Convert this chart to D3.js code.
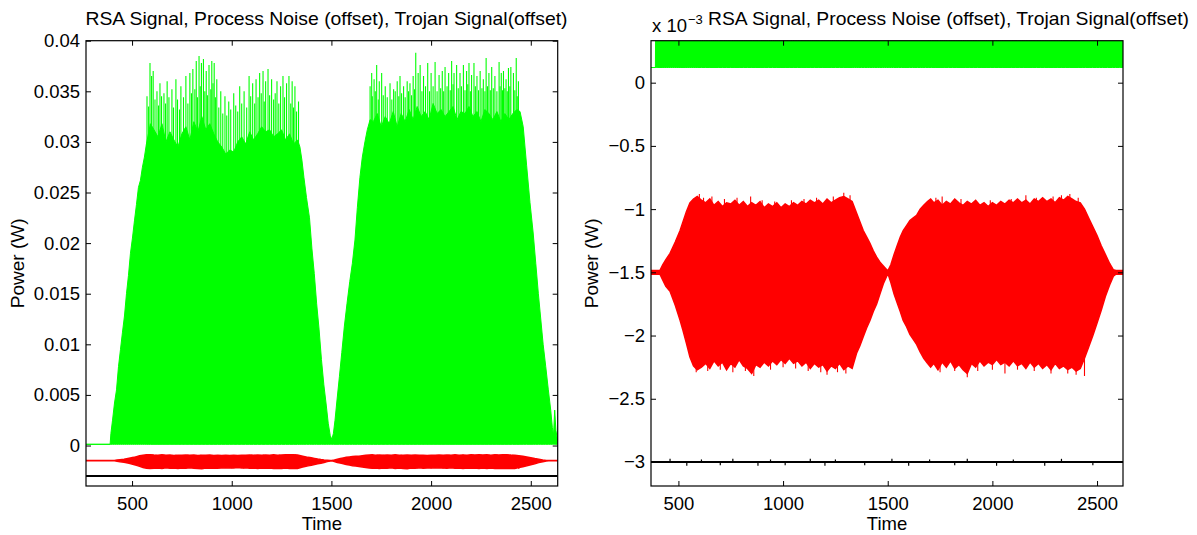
<!DOCTYPE html>
<html>
<head>
<meta charset="utf-8">
<script src="https://cdn.jsdelivr.net/npm/d3@7"></script>
<style>
body { margin: 0; background: #fff; }
text { font-family: "Liberation Sans", Arial, Helvetica, sans-serif; fill: #000; }
</style>
</head>
<body>
<div id="chart"></div>
<script>
// ---- data (time in samples, power in W unless noted) ----
var titleText = "RSA Signal, Process Noise (offset), Trojan Signal(offset)";
var xTicks = [500, 1000, 1500, 2000, 2500];
var xTickLabels = ["500", "1000", "1500", "2000", "2500"];
var leftYTicks = [0, 0.005, 0.01, 0.015, 0.02, 0.025, 0.03, 0.035, 0.04];
var leftYTickLabels = ["0", "0.005", "0.01", "0.015", "0.02", "0.025", "0.03", "0.035", "0.04"];
var rightYTicks = [-0.003, -0.0025, -0.002, -0.0015, -0.001, -0.0005, 0];
var rightYTickLabels = ["\u22123", "\u22122.5", "\u22122", "\u22121.5", "\u22121", "\u22120.5", "0"];

// RSA signal (green): floor of the dense trace and its upper envelope
var greenFloor = 0.00012;
var greenT = [269, 390, 394, 402, 412, 422, 432, 442, 452, 462, 472, 482, 492, 502, 512, 522, 532, 542, 552, 562, 572, 582, 592,
  610, 630, 650, 670, 690, 710, 730, 750, 770, 790, 810, 830, 850, 870, 890, 910, 930, 950, 970, 990,
  1010, 1030, 1050, 1070, 1090, 1110, 1130, 1150, 1170, 1190, 1210, 1230, 1250, 1270, 1290, 1310, 1330,
  1342, 1352, 1362, 1375, 1390, 1402, 1414, 1426, 1438, 1450, 1462, 1474, 1484, 1494, 1502, 1510,
  1518, 1528, 1540, 1552, 1565, 1578, 1592, 1605, 1618, 1630, 1643, 1655, 1668, 1680, 1694,
  1710, 1730, 1750, 1770, 1790, 1810, 1830, 1850, 1870, 1890, 1910, 1930, 1950, 1970, 1990,
  2010, 2030, 2050, 2070, 2090, 2110, 2130, 2150, 2170, 2190, 2210, 2230, 2250, 2270, 2290,
  2310, 2330, 2350, 2370, 2390, 2410, 2430,
  2446, 2462, 2479, 2496, 2512, 2525, 2538, 2550, 2562, 2575, 2588, 2600, 2608, 2614, 2620, 2626, 2635];
var greenTop = [0.00012, 0.00012, 0.0012, 0.0025, 0.0042, 0.0055, 0.0078, 0.0095, 0.0112, 0.0128, 0.0150, 0.0168, 0.0190, 0.0205, 0.0222, 0.0238, 0.0255, 0.0262, 0.0275, 0.0285, 0.0298, 0.0308, 0.0318,
  0.0312, 0.0305, 0.0318, 0.0300, 0.0310, 0.0302, 0.0295, 0.0308, 0.0315, 0.0302, 0.0320, 0.0310, 0.0325, 0.0312, 0.0318, 0.0308, 0.0300, 0.0295, 0.0288, 0.0292,
  0.0290, 0.0300, 0.0305, 0.0298, 0.0310, 0.0302, 0.0308, 0.0315, 0.0310, 0.0312, 0.0305, 0.0308, 0.0312, 0.0302, 0.0308, 0.0298, 0.0302,
  0.0295, 0.0282, 0.0265, 0.0245, 0.0225, 0.0195, 0.0170, 0.0140, 0.0115, 0.0085, 0.0060, 0.0040, 0.0022, 0.0010, 0.0006, 0.0012,
  0.0025, 0.0045, 0.0068, 0.0092, 0.0118, 0.0140, 0.0162, 0.0180, 0.0203, 0.0235, 0.0265, 0.0285, 0.0300, 0.0312, 0.0322,
  0.0320, 0.0328, 0.0315, 0.0325, 0.0318, 0.0330, 0.0315, 0.0328, 0.0320, 0.0332, 0.0322, 0.0335, 0.0325, 0.0330, 0.0322,
  0.0338, 0.0328, 0.0332, 0.0325, 0.0330, 0.0335, 0.0322, 0.0330, 0.0328, 0.0335, 0.0325, 0.0330, 0.0320, 0.0332, 0.0328,
  0.0322, 0.0330, 0.0320, 0.0328, 0.0322, 0.0328, 0.0332,
  0.0330, 0.0315, 0.0277, 0.0240, 0.0210, 0.0180, 0.0150, 0.0125, 0.0100, 0.0078, 0.0055, 0.0035, 0.0018, 0.0010, 0.0035, 0.0015, 0.0004];
// single peaks of the RSA trace standing above its dense body
var greenSpikeT = [575, 590, 598, 606, 625, 640, 660, 676, 700, 720, 745, 770, 790, 805, 822, 836, 848, 858, 872, 886, 900, 912, 925,
  945, 966, 985, 1010, 1040, 1062, 1087, 1105, 1122, 1140, 1157, 1170, 1182, 1200, 1227, 1245, 1257, 1275, 1287, 1303, 1317, 1335,
  583, 615, 633, 648, 668, 685, 708, 728, 738, 758, 780, 798, 815, 828, 842, 865, 878, 895, 906, 918, 935, 955, 975, 995,
  1020, 1030, 1050, 1075, 1095, 1115, 1132, 1148, 1163, 1190, 1210, 1218, 1236, 1265, 1296, 1310, 1325,
  1694, 1702, 1714, 1727, 1740, 1752, 1770, 1794, 1812, 1830, 1844, 1862, 1880, 1894, 1910, 1923, 1935, 1945, 1962, 1983, 2000,
  2020, 2040, 2056, 2070, 2088, 2103, 2115, 2128, 2145, 2162, 2178, 2190, 2203, 2215, 2230, 2246, 2262, 2276, 2290, 2304, 2320,
  2341, 2352, 2363, 2376, 2388, 2400, 2413, 2427, 2438,
  1705, 1720, 1735, 1760, 1780, 1803, 1820, 1838, 1852, 1870, 1887, 1902, 1917, 1954, 1972, 1992, 2010, 2030, 2048, 2063, 2080,
  2096, 2110, 2136, 2152, 2170, 2184, 2197, 2222, 2238, 2255, 2270, 2283, 2297, 2312, 2330, 2346, 2358, 2370, 2382, 2395, 2420, 2432];
var greenSpikeV = [0.0345, 0.0378, 0.0365, 0.0370, 0.0350, 0.0358, 0.0348, 0.0360, 0.0352, 0.0362, 0.0355, 0.0365, 0.0368, 0.0372, 0.0380, 0.0385, 0.0378, 0.0382, 0.0370, 0.0376, 0.0380, 0.0378, 0.0362,
  0.0350, 0.0345, 0.0340, 0.0348, 0.0355, 0.0350, 0.0365, 0.0358, 0.0362, 0.0368, 0.0370, 0.0360, 0.0372, 0.0362, 0.0360, 0.0355, 0.0365, 0.0358, 0.0365, 0.0360, 0.0355, 0.0340,
  0.0335, 0.0342, 0.0336, 0.0345, 0.0338, 0.0344, 0.0334, 0.0342, 0.0332, 0.0344, 0.0338, 0.0348, 0.0352, 0.0344, 0.0355, 0.0350, 0.0346, 0.0352, 0.0358, 0.0344, 0.0334, 0.0328, 0.0326, 0.0332,
  0.0336, 0.0330, 0.0338, 0.0334, 0.0345, 0.0338, 0.0344, 0.0348, 0.0340, 0.0346, 0.0342, 0.0348, 0.0338, 0.0344, 0.0338, 0.0334, 0.0330,
  0.0355, 0.0368, 0.0362, 0.0376, 0.0360, 0.0368, 0.0355, 0.0358, 0.0352, 0.0360, 0.0365, 0.0355, 0.0360, 0.0358, 0.0365, 0.0388, 0.0368, 0.0376, 0.0365, 0.0378, 0.0368,
  0.0379, 0.0366, 0.0370, 0.0374, 0.0368, 0.0380, 0.0368, 0.0376, 0.0368, 0.0376, 0.0370, 0.0378, 0.0366, 0.0378, 0.0365, 0.0370, 0.0362, 0.0383, 0.0368, 0.0374, 0.0365,
  0.0379, 0.0368, 0.0370, 0.0362, 0.0373, 0.0374, 0.0368, 0.0383, 0.0360,
  0.0345, 0.0350, 0.0342, 0.0346, 0.0344, 0.0342, 0.0350, 0.0345, 0.0348, 0.0344, 0.0350, 0.0346, 0.0352, 0.0350, 0.0355, 0.0350, 0.0355, 0.0350, 0.0353, 0.0350, 0.0355,
  0.0351, 0.0357, 0.0353, 0.0355, 0.0351, 0.0357, 0.0350, 0.0355, 0.0351, 0.0353, 0.0350, 0.0355, 0.0351, 0.0353, 0.0350, 0.0355, 0.0351, 0.0353, 0.0350, 0.0355, 0.0351, 0.0345];

// Process noise (red), offset to -1.5e-3; envelope values in units of 1e-3 W
var redT = [269, 412, 425, 440, 460, 485, 508, 522, 538, 555, 572, 590,
  610, 630, 650, 670, 690, 710, 730, 750, 770, 790, 810, 830, 850, 870, 890, 910, 930, 950, 970, 990,
  1010, 1030, 1050, 1070, 1090, 1110, 1130, 1150, 1170, 1190, 1210, 1230, 1250, 1270, 1290, 1310, 1330,
  1351, 1367, 1383, 1399, 1415, 1431, 1447, 1463, 1479, 1495, 1502,
  1515, 1530, 1545, 1560, 1574, 1590, 1606, 1622, 1638, 1655, 1672, 1690, 1705,
  1720, 1740, 1760, 1780, 1800, 1820, 1840, 1860, 1880, 1900, 1920, 1940, 1960, 1980, 2000,
  2020, 2040, 2060, 2080, 2100, 2120, 2140, 2160, 2180, 2200, 2220, 2240, 2260, 2280, 2300,
  2320, 2340, 2360, 2380, 2400, 2420,
  2440, 2460, 2480, 2500, 2520, 2540, 2560, 2578, 2590, 2635];
var redHiE3 = [-1.485, -1.485, -1.44, -1.40, -1.35, -1.26, -1.17, -1.10, -1.02, -0.95, -0.92, -0.90,
  -0.93, -0.95, -0.92, -0.97, -0.94, -0.98, -0.95, -0.96, -0.93, -0.97, -0.94, -0.98, -0.95, -0.97, -0.94, -0.99, -0.96, -0.98, -0.95, -0.99,
  -0.96, -0.98, -0.95, -0.97, -0.94, -0.96, -0.93, -0.95, -0.93, -0.96, -0.92, -0.95, -0.93, -0.91, -0.90, -0.92, -0.94,
  -1.03, -1.10, -1.17, -1.22, -1.27, -1.33, -1.38, -1.42, -1.45, -1.48, -1.485,
  -1.44, -1.36, -1.29, -1.22, -1.17, -1.13, -1.09, -1.07, -1.05, -1.00, -0.97, -0.94, -0.92,
  -0.95, -0.93, -0.97, -0.94, -0.96, -0.92, -0.95, -0.97, -0.94, -0.96, -0.93, -0.97, -0.95, -0.98, -0.95,
  -0.97, -0.94, -0.96, -0.93, -0.95, -0.92, -0.95, -0.93, -0.96, -0.92, -0.94, -0.91, -0.94, -0.92, -0.95,
  -0.91, -0.93, -0.90, -0.92, -0.94, -0.95,
  -1.00, -1.07, -1.14, -1.21, -1.29, -1.36, -1.43, -1.48, -1.485, -1.485];
var redLoE3 = [-1.515, -1.515, -1.56, -1.61, -1.65, -1.76, -1.88, -1.96, -2.06, -2.17, -2.24, -2.27,
  -2.25, -2.22, -2.26, -2.20, -2.24, -2.21, -2.27, -2.22, -2.25, -2.19, -2.24, -2.26, -2.30, -2.23, -2.25, -2.21, -2.24, -2.20, -2.23, -2.19,
  -2.22, -2.18, -2.22, -2.20, -2.24, -2.21, -2.26, -2.22, -2.25, -2.23, -2.28, -2.24, -2.26, -2.22, -2.27, -2.24, -2.26,
  -2.14, -2.08, -2.01, -1.94, -1.88, -1.81, -1.75, -1.67, -1.59, -1.53, -1.515,
  -1.58, -1.67, -1.74, -1.81, -1.88, -1.93, -1.99, -2.03, -2.07, -2.13, -2.18, -2.22, -2.25,
  -2.22, -2.27, -2.21, -2.25, -2.20, -2.26, -2.23, -2.27, -2.30, -2.22, -2.25, -2.20, -2.24, -2.21, -2.23,
  -2.19, -2.23, -2.21, -2.24, -2.20, -2.24, -2.22, -2.26, -2.21, -2.25, -2.22, -2.26, -2.23, -2.27, -2.22,
  -2.26, -2.24, -2.27, -2.25, -2.28, -2.26,
  -2.18, -2.09, -2.00, -1.90, -1.80, -1.69, -1.60, -1.53, -1.515, -1.515];
var redCenterE3 = -1.5;
var redSpikeT = [600, 845, 1290, 1320, 1760, 2160, 2370, 585, 860, 1210, 1300, 1880, 2060, 2440,
  620, 660, 720, 780, 900, 960, 1040, 1100, 1160, 1240, 1730, 1850, 1990, 2090, 2210, 2290, 2330, 2410,
  640, 700, 760, 820, 940, 1000, 1060, 1120, 1180, 1260, 1750, 1820, 1930, 2000, 2120, 2200, 2280, 2360, 2400];
var redSpikeE3 = [-0.88, -0.90, -0.87, -0.89, -0.90, -0.89, -0.88, -2.29, -2.32, -2.31, -2.30, -2.33, -2.30, -2.32,
  -0.91, -0.90, -0.92, -0.91, -0.93, -0.94, -0.93, -0.92, -0.91, -0.90, -0.91, -0.92, -0.93, -0.92, -0.91, -0.90, -0.89, -0.91,
  -2.28, -2.27, -2.29, -2.28, -2.27, -2.25, -2.26, -2.28, -2.29, -2.29, -2.29, -2.28, -2.28, -2.27, -2.27, -2.28, -2.30, -2.30, -2.31];

// Trojan signal (black), offset to -3e-3
var blackT = [269, 2635];
var blackE3 = [-3, -3];
var blackSpikeT = [460, 540, 610, 700, 760, 880, 940, 1010, 1130, 1200, 1250, 1390, 1520, 1600, 1700, 1820, 1880, 2020, 2100, 2250, 2330, 2480];
var blackSpikeE3 = [-2.975, -3.03, -2.98, -3.025, -2.975, -3.03, -2.98, -3.025, -2.975, -3.03, -2.98, -3.025, -2.975, -3.03, -2.98, -3.025, -2.975, -3.03, -2.98, -3.03, -2.975, -3.025];

var E3 = 1e-3;

function init() {
  var w = 1197, h = 535;
  var fs = 18.5;
  var svg = d3.select("#chart").append("svg").attr("width", w).attr("height", h);

  var panels = [
    { id: "pl", x0: 86, x1: 557.7, y0: 40.7, y1: 486, xlim: [269, 2635], ylim: [-0.004, 0.04],
      yTicks: leftYTicks, yLabels: leftYTickLabels, ylabX: 23.5 },
    { id: "pr", x0: 651, x1: 1123, y0: 40.7, y1: 486, xlim: [369, 2624], ylim: [-0.00319, 0.000332],
      yTicks: rightYTicks, yLabels: rightYTickLabels, ylabX: 598 }
  ];

  panels.forEach(function(p) {
    var x = d3.scaleLinear().domain(p.xlim).range([p.x0, p.x1]);
    var y = d3.scaleLinear().domain(p.ylim).range([p.y1, p.y0]);
    var g = svg.append("g");

    svg.append("clipPath").attr("id", p.id)
      .append("rect").attr("x", p.x0).attr("y", p.y0)
      .attr("width", p.x1 - p.x0).attr("height", p.y1 - p.y0);
    var plot = g.append("g").attr("clip-path", "url(#" + p.id + ")");

    // RSA signal
    var greenArea = d3.area()
      .x(function(d, i) { return x(greenT[i]); })
      .y0(y(greenFloor))
      .y1(function(d) { return y(d); });
    plot.append("path").datum(greenTop)
      .attr("d", greenArea)
      .attr("fill", "#00ff00").attr("stroke", "#00ff00").attr("stroke-width", 1);
    plot.selectAll("line.gs").data(greenSpikeV).enter().append("line")
      .attr("class", "gs")
      .attr("x1", function(d, i) { return x(greenSpikeT[i]); })
      .attr("x2", function(d, i) { return x(greenSpikeT[i]); })
      .attr("y1", y(greenFloor))
      .attr("y2", function(d) { return y(d); })
      .attr("stroke", "#00ff00").attr("stroke-width", 1.1);

    // process noise
    var redArea = d3.area()
      .x(function(d, i) { return x(redT[i]); })
      .y0(function(d, i) { return y(redLoE3[i] * E3); })
      .y1(function(d) { return y(d * E3); });
    plot.append("path").datum(redHiE3)
      .attr("d", redArea)
      .attr("fill", "#ff0000").attr("stroke", "#ff0000").attr("stroke-width", 1.5);
    plot.selectAll("line.rs").data(redSpikeE3).enter().append("line")
      .attr("class", "rs")
      .attr("x1", function(d, i) { return x(redSpikeT[i]); })
      .attr("x2", function(d, i) { return x(redSpikeT[i]); })
      .attr("y1", y(redCenterE3 * E3))
      .attr("y2", function(d) { return y(d * E3); })
      .attr("stroke", "#ff0000").attr("stroke-width", 1.1);

    // trojan signal
    var blackLine = d3.line()
      .x(function(d, i) { return x(blackT[i]); })
      .y(function(d) { return y(d * E3); });
    plot.append("path").datum(blackE3)
      .attr("d", blackLine)
      .attr("fill", "none").attr("stroke", "#000").attr("stroke-width", 2);
    plot.selectAll("line.bs").data(blackSpikeE3).enter().append("line")
      .attr("class", "bs")
      .attr("x1", function(d, i) { return x(blackSpikeT[i]); })
      .attr("x2", function(d, i) { return x(blackSpikeT[i]); })
      .attr("y1", y(-3 * E3))
      .attr("y2", function(d) { return y(d * E3); })
      .attr("stroke", "#000").attr("stroke-width", 1.2);

    // frame
    g.append("rect")
      .attr("x", p.x0).attr("y", p.y0)
      .attr("width", p.x1 - p.x0).attr("height", p.y1 - p.y0)
      .attr("fill", "none").attr("stroke", "#000").attr("stroke-width", 1.2);

    // axes, ticks pointing inwards on all four sides
    function styleAxis(a) {
      a.select(".domain").remove();
      a.attr("font-size", fs).attr("font-family", "Liberation Sans, Arial, sans-serif");
      a.selectAll(".tick line").attr("stroke", "#000");
      a.selectAll(".tick text").attr("fill", "#000");
    }
    g.append("g").attr("transform", "translate(0," + p.y1 + ")")
      .call(d3.axisBottom(x).tickValues(xTicks)
        .tickFormat(function(d, i) { return xTickLabels[i]; })
        .tickSize(-5).tickPadding(11))
      .call(styleAxis);
    g.append("g").attr("transform", "translate(0," + p.y0 + ")")
      .call(d3.axisTop(x).tickValues(xTicks).tickFormat("").tickSize(-5))
      .call(styleAxis);
    g.append("g").attr("transform", "translate(" + p.x0 + ",0)")
      .call(d3.axisLeft(y).tickValues(p.yTicks)
        .tickFormat(function(d, i) { return p.yLabels[i]; })
        .tickSize(-5).tickPadding(6))
      .call(styleAxis);
    g.append("g").attr("transform", "translate(" + p.x1 + ",0)")
      .call(d3.axisRight(y).tickValues(p.yTicks).tickFormat("").tickSize(-5))
      .call(styleAxis);

    // labels
    g.append("text")
      .attr("x", (p.x0 + p.x1) / 2).attr("y", 530)
      .attr("text-anchor", "middle").attr("font-size", fs)
      .text("Time");
    g.append("text")
      .attr("transform", "translate(" + p.ylabX + "," + ((p.y0 + p.y1) / 2) + ") rotate(-90)")
      .attr("text-anchor", "middle").attr("font-size", 19)
      .text("Power (W)");
  });

  // titles
  svg.append("text")
    .attr("x", 326.5).attr("y", 25)
    .attr("text-anchor", "middle").attr("font-size", fs)
    .attr("textLength", 482).attr("lengthAdjust", "spacingAndGlyphs")
    .text(titleText);
  svg.append("text")
    .attr("x", 652).attr("y", 32).attr("font-size", fs)
    .text("x 10");
  svg.append("text")
    .attr("x", 688).attr("y", 23.5).attr("font-size", 13)
    .text("\u22123");
  svg.append("text")
    .attr("x", 708).attr("y", 25).attr("font-size", fs)
    .attr("textLength", 481).attr("lengthAdjust", "spacingAndGlyphs")
    .text(titleText);
}
window.onload = init;
</script>
</body>
</html>
